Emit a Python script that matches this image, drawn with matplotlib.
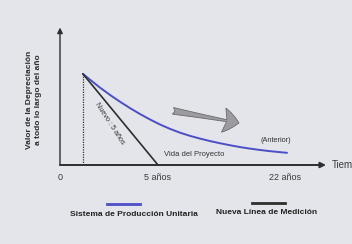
import matplotlib.pyplot as plt

# datos (unidades arbitrarias, eje de tiempo no a escala)
t_anterior = [1.15, 1.6, 2.0, 2.5, 3.0, 3.5, 4.0, 4.5, 5.0, 5.5, 6.0, 6.5, 7.0,
              7.5, 8.0, 8.5, 9.0, 9.5, 10.0, 10.5, 11.0, 11.35]
v_anterior = [10.0, 9.2, 8.5, 7.7, 6.95, 6.25, 5.6, 5.0, 4.45, 3.97, 3.55, 3.2, 2.9,
              2.63, 2.39, 2.17, 1.97, 1.8, 1.65, 1.52, 1.41, 1.34]
t_nuevo = [1.15, 4.9]
v_nuevo = [10.0, 0.0]
tick_pos = [0, 4.9, 11.25]
tick_lbl = ["0", "5 años", "22 años"]

plt.rcParams['font.family'] = ['Liberation Sans', 'DejaVu Sans']

bg = '#e3e5eb'
blue = '#4b4ec6'
dark = '#2e2e30'

fig = plt.figure(figsize=(3.52, 2.44), dpi=100)
fig.patch.set_facecolor(bg)
ax = fig.add_axes([60/352, 79/244, 292/352, 145/244])
ax.set_facecolor(bg)
ax.set_xlim(0, 14.6)
ax.set_ylim(0, 15.93)
ax.axis('off')

# ejes con flechas
ax.annotate('', xy=(13.3, 0), xytext=(0, 0),
            arrowprops=dict(arrowstyle='-|>', color=dark, lw=1.4, mutation_scale=8,
                            shrinkA=0, shrinkB=0))
ax.annotate('', xy=(0, 15.1), xytext=(0, 0),
            arrowprops=dict(arrowstyle='-|>', color=dark, lw=1.0, mutation_scale=8,
                            shrinkA=0, shrinkB=0))

# linea punteada vertical del inicio
ax.plot([t_nuevo[0], t_nuevo[0]], [0, v_nuevo[0]], color=dark, lw=0.9, ls=(0, (1, 1)))

ax.plot(t_anterior, v_anterior, color=blue, lw=1.4, solid_capstyle='round')
ax.plot(t_nuevo, v_nuevo, color=dark, lw=1.2)

for p, l in zip(tick_pos, tick_lbl):
    ax.text(p, -1.35, l, ha='center', va='center', fontsize=6.5, color='#3a3a3a', clip_on=False)

ax.text(13.6, 0, 'Tiempo', ha='left', va='center', fontsize=7, color='#3a3a3a', clip_on=False)
ax.text(6.7, 1.1, 'Vida del Proyecto', ha='center', va='center', fontsize=5.5, color='#333333')
ax.text(10.8, 2.64, '(Anterior)', ha='center', va='center', fontsize=5.3, color='#333333')
ax.text(2.45, 4.55, 'Nuevo : 5 años', ha='center', va='center', fontsize=5.2,
        color='#333333', rotation=-57, rotation_mode='anchor')

# flecha gris
ax.annotate('', xy=(8.95, 4.62), xytext=(5.65, 5.95),
            arrowprops=dict(arrowstyle='fancy,head_length=1.4,head_width=2.2,tail_width=0.6',
                            mutation_scale=8, facecolor='#9c9ca0', edgecolor='#6a6a6e',
                            lw=0.6, shrinkA=0, shrinkB=0))

# etiqueta del eje y
fig.text(34/352, 1 - 100/244, 'Valor de la Depreciación\na todo lo largo del año',
         rotation=90, ha='center', va='center', fontsize=6, fontweight='bold',
         color='#2a2a2a', linespacing=1.35)

# leyenda
fig.add_artist(plt.Line2D([107/352, 140/352], [1 - 204/244, 1 - 204/244], color=blue, lw=2))
fig.text(134/352, 1 - 214/244, 'Sistema de Producción Unitaria', ha='center', va='center',
         fontsize=6, fontweight='bold', color='#222222')
fig.add_artist(plt.Line2D([252/352, 285/352], [1 - 203/244, 1 - 203/244], color=dark, lw=2))
fig.text(267/352, 1 - 213/244, 'Nueva Línea de Medición', ha='center', va='center',
         fontsize=6, fontweight='bold', color='#222222')

fig.savefig('out.png', dpi=100, facecolor=bg)
